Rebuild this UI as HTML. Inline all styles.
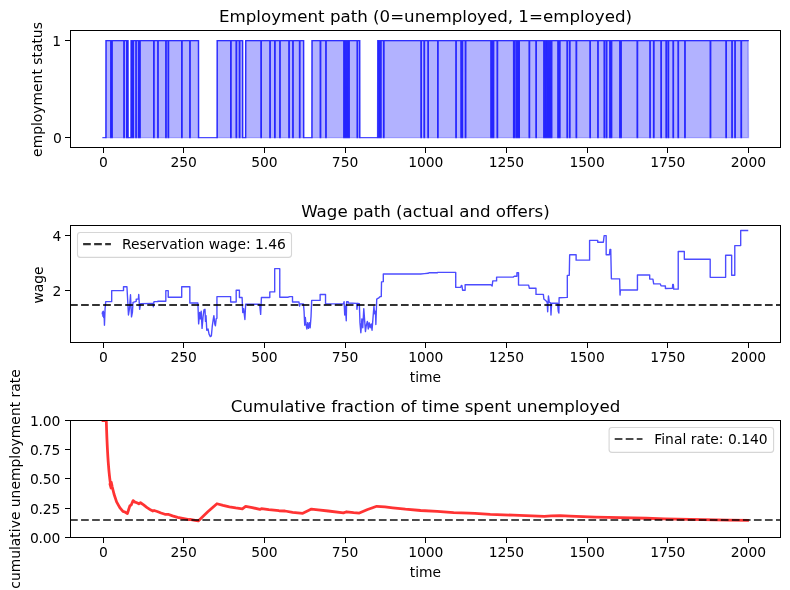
<!DOCTYPE html>
<html lang="en"><head><meta charset="utf-8"><title>McCall model simulation</title>
<style>html,body{margin:0;padding:0;background:#fff}svg{display:block}text{font-family:'DejaVu Sans','Liberation Sans',sans-serif;fill:#000}.t{font-size:16.67px;text-anchor:middle}.l{font-size:13.89px;text-anchor:middle}.x{font-size:13.89px;text-anchor:middle}.y{font-size:13.89px;text-anchor:end;letter-spacing:-0.12px}.lg{font-size:13.89px;text-anchor:start}.sp{fill:none;stroke:#000;stroke-width:1.11;shape-rendering:crispEdges}.tk{stroke:#000;stroke-width:1.11;shape-rendering:crispEdges}</style></head><body>
<svg width="790" height="590" viewBox="0 0 790 590">
<rect width="790" height="590" fill="#fff"/>
<defs>
<clipPath id="c1"><rect x="70.5" y="30.5" width="710.0" height="117.0"/></clipPath>
<clipPath id="c2"><rect x="70.5" y="225.5" width="710.0" height="117.0"/></clipPath>
<clipPath id="c3"><rect x="70.5" y="420.5" width="710.0" height="117.0"/></clipPath>
</defs>
<g clip-path="url(#c1)">
<path d="M105.68,137.6L106.00,40.6H110.75L111.07,137.6ZM110.76,137.6L111.08,40.6H111.85L112.17,137.6ZM111.86,137.6L112.18,40.6H123.90L124.22,137.6ZM123.91,137.6L124.23,40.6H126.70L127.02,137.6ZM126.71,137.6L127.03,40.6H128.00L128.32,137.6ZM130.78,137.6L131.10,40.6H132.10L132.42,137.6ZM132.11,137.6L132.43,40.6H133.10L133.42,137.6ZM133.11,137.6L133.43,40.6H135.90L136.22,137.6ZM135.91,137.6L136.23,40.6H138.50L138.82,137.6ZM138.51,137.6L138.83,40.6H139.80L140.12,137.6ZM139.81,137.6L140.13,40.6H153.70L154.02,137.6ZM153.71,137.6L154.03,40.6H157.80L158.12,137.6ZM157.81,137.6L158.13,40.6H165.80L166.12,137.6ZM165.81,137.6L166.13,40.6H168.20L168.52,137.6ZM168.21,137.6L168.53,40.6H181.70L182.02,137.6ZM181.71,137.6L182.03,40.6H189.80L190.12,137.6ZM189.81,137.6L190.13,40.6H198.50L198.82,137.6ZM216.88,137.6L217.20,40.6H230.70L231.02,137.6ZM230.71,137.6L231.03,40.6H236.20L236.52,137.6ZM236.21,137.6L236.53,40.6H239.40L239.72,137.6ZM239.41,137.6L239.73,40.6H242.60L242.92,137.6ZM245.38,137.6L245.70,40.6H261.00L261.32,137.6ZM261.01,137.6L261.33,40.6H269.90L270.22,137.6ZM269.91,137.6L270.23,40.6H274.70L275.02,137.6ZM274.71,137.6L275.03,40.6H279.80L280.12,137.6ZM279.81,137.6L280.13,40.6H288.90L289.22,137.6ZM288.91,137.6L289.23,40.6H292.80L293.12,137.6ZM292.81,137.6L293.13,40.6H299.55L299.87,137.6ZM299.56,137.6L299.88,40.6H303.60L303.92,137.6ZM311.68,137.6L312.00,40.6H320.30L320.62,137.6ZM320.31,137.6L320.63,40.6H325.80L326.12,137.6ZM325.81,137.6L326.13,40.6H343.80L344.12,137.6ZM343.81,137.6L344.13,40.6H345.00L345.32,137.6ZM345.01,137.6L345.33,40.6H346.20L346.52,137.6ZM346.21,137.6L346.53,40.6H347.30L347.62,137.6ZM347.31,137.6L347.63,40.6H348.90L349.22,137.6ZM348.91,137.6L349.23,40.6H357.20L357.52,137.6ZM357.21,137.6L357.53,40.6H359.70L360.02,137.6ZM377.48,137.6L377.80,40.6H379.20L379.52,137.6ZM379.21,137.6L379.53,40.6H380.70L381.02,137.6ZM380.71,137.6L381.03,40.6H383.60L383.92,137.6ZM383.61,137.6L383.93,40.6H421.00L421.32,137.6ZM421.01,137.6L421.33,40.6H424.10L424.42,137.6ZM424.11,137.6L424.43,40.6H428.00L428.32,137.6ZM428.01,137.6L428.33,40.6H437.70L438.02,137.6ZM437.71,137.6L438.03,40.6H455.90L456.22,137.6ZM455.91,137.6L456.23,40.6H461.00L461.32,137.6ZM461.01,137.6L461.33,40.6H462.20L462.52,137.6ZM462.21,137.6L462.53,40.6H465.40L465.72,137.6ZM465.41,137.6L465.73,40.6H490.90L491.22,137.6ZM490.91,137.6L491.23,40.6H492.10L492.42,137.6ZM492.11,137.6L492.43,40.6H493.30L493.62,137.6ZM493.31,137.6L493.63,40.6H497.20L497.52,137.6ZM497.21,137.6L497.53,40.6H513.60L513.92,137.6ZM513.61,137.6L513.93,40.6H514.60L514.92,137.6ZM514.61,137.6L514.93,40.6H516.60L516.92,137.6ZM516.61,137.6L516.93,40.6H517.80L518.12,137.6ZM517.81,137.6L518.13,40.6H519.00L519.32,137.6ZM519.01,137.6L519.33,40.6H529.20L529.52,137.6ZM529.21,137.6L529.53,40.6H536.00L536.32,137.6ZM536.01,137.6L536.33,40.6H543.80L544.12,137.6ZM543.81,137.6L544.13,40.6H545.50L545.82,137.6ZM545.51,137.6L545.83,40.6H547.20L547.52,137.6ZM547.21,137.6L547.53,40.6H548.30L548.62,137.6ZM548.31,137.6L548.63,40.6H549.40L549.72,137.6ZM549.41,137.6L549.73,40.6H550.40L550.72,137.6ZM550.41,137.6L550.73,40.6H551.40L551.72,137.6ZM551.41,137.6L551.73,40.6H557.90L558.22,137.6ZM557.91,137.6L558.23,40.6H559.60L559.92,137.6ZM559.61,137.6L559.93,40.6H567.10L567.42,137.6ZM567.11,137.6L567.43,40.6H569.60L569.92,137.6ZM569.61,137.6L569.93,40.6H576.20L576.52,137.6ZM576.21,137.6L576.53,40.6H590.00L590.32,137.6ZM590.01,137.6L590.33,40.6H597.80L598.12,137.6ZM597.81,137.6L598.13,40.6H604.20L604.52,137.6ZM604.21,137.6L604.53,40.6H606.40L606.72,137.6ZM606.41,137.6L606.73,40.6H609.80L610.12,137.6ZM609.81,137.6L610.13,40.6H611.30L611.62,137.6ZM611.31,137.6L611.63,40.6H619.80L620.12,137.6ZM619.81,137.6L620.13,40.6H620.90L621.22,137.6ZM620.91,137.6L621.23,40.6H637.20L637.52,137.6ZM637.21,137.6L637.53,40.6H649.90L650.22,137.6ZM649.91,137.6L650.23,40.6H653.60L653.92,137.6ZM653.61,137.6L653.93,40.6H661.00L661.32,137.6ZM661.01,137.6L661.33,40.6H666.10L666.42,137.6ZM666.11,137.6L666.43,40.6H668.20L668.52,137.6ZM668.21,137.6L668.53,40.6H673.10L673.42,137.6ZM673.11,137.6L673.43,40.6H678.10L678.42,137.6ZM678.11,137.6L678.43,40.6H684.80L685.12,137.6ZM684.81,137.6L685.13,40.6H710.30L710.62,137.6ZM710.31,137.6L710.63,40.6H726.00L726.32,137.6ZM726.01,137.6L726.33,40.6H731.90L732.22,137.6ZM731.91,137.6L732.23,40.6H734.90L735.22,137.6ZM734.91,137.6L735.23,40.6H741.10L741.42,137.6ZM741.11,137.6L741.43,40.6H748.13L748.45,137.6Z" fill="#0000ff" fill-opacity="0.3" stroke="#0000ff" stroke-opacity="0.3" stroke-width="1.39" stroke-linejoin="miter"/>
<path d="M103.05,137.6H106.00V40.6H110.75V137.6H111.08V40.6H111.85V137.6H112.18V40.6H123.90V137.6H124.23V40.6H126.70V137.6H127.03V40.6H128.00V137.6H131.10V40.6H132.10V137.6H132.43V40.6H133.10V137.6H133.43V40.6H135.90V137.6H136.23V40.6H138.50V137.6H138.83V40.6H139.80V137.6H140.13V40.6H153.70V137.6H154.03V40.6H157.80V137.6H158.13V40.6H165.80V137.6H166.13V40.6H168.20V137.6H168.53V40.6H181.70V137.6H182.03V40.6H189.80V137.6H190.13V40.6H198.50V137.6H217.20V40.6H230.70V137.6H231.03V40.6H236.20V137.6H236.53V40.6H239.40V137.6H239.73V40.6H242.60V137.6H245.70V40.6H261.00V137.6H261.33V40.6H269.90V137.6H270.23V40.6H274.70V137.6H275.03V40.6H279.80V137.6H280.13V40.6H288.90V137.6H289.23V40.6H292.80V137.6H293.13V40.6H299.55V137.6H299.88V40.6H303.60V137.6H312.00V40.6H320.30V137.6H320.63V40.6H325.80V137.6H326.13V40.6H343.80V137.6H344.13V40.6H345.00V137.6H345.33V40.6H346.20V137.6H346.53V40.6H347.30V137.6H347.63V40.6H348.90V137.6H349.23V40.6H357.20V137.6H357.53V40.6H359.70V137.6H377.80V40.6H379.20V137.6H379.53V40.6H380.70V137.6H381.03V40.6H383.60V137.6H383.93V40.6H421.00V137.6H421.33V40.6H424.10V137.6H424.43V40.6H428.00V137.6H428.33V40.6H437.70V137.6H438.03V40.6H455.90V137.6H456.23V40.6H461.00V137.6H461.33V40.6H462.20V137.6H462.53V40.6H465.40V137.6H465.73V40.6H490.90V137.6H491.23V40.6H492.10V137.6H492.43V40.6H493.30V137.6H493.63V40.6H497.20V137.6H497.53V40.6H513.60V137.6H513.93V40.6H514.60V137.6H514.93V40.6H516.60V137.6H516.93V40.6H517.80V137.6H518.13V40.6H519.00V137.6H519.33V40.6H529.20V137.6H529.53V40.6H536.00V137.6H536.33V40.6H543.80V137.6H544.13V40.6H545.50V137.6H545.83V40.6H547.20V137.6H547.53V40.6H548.30V137.6H548.63V40.6H549.40V137.6H549.73V40.6H550.40V137.6H550.73V40.6H551.40V137.6H551.73V40.6H557.90V137.6H558.23V40.6H559.60V137.6H559.93V40.6H567.10V137.6H567.43V40.6H569.60V137.6H569.93V40.6H576.20V137.6H576.53V40.6H590.00V137.6H590.33V40.6H597.80V137.6H598.13V40.6H604.20V137.6H604.53V40.6H606.40V137.6H606.73V40.6H609.80V137.6H610.13V40.6H611.30V137.6H611.63V40.6H619.80V137.6H620.13V40.6H620.90V137.6H621.23V40.6H637.20V137.6H637.53V40.6H649.90V137.6H650.23V40.6H653.60V137.6H653.93V40.6H661.00V137.6H661.33V40.6H666.10V137.6H666.43V40.6H668.20V137.6H668.53V40.6H673.10V137.6H673.43V40.6H678.10V137.6H678.43V40.6H684.80V137.6H685.13V40.6H710.30V137.6H710.63V40.6H726.00V137.6H726.33V40.6H731.90V137.6H732.23V40.6H734.90V137.6H735.23V40.6H741.10V137.6H741.43V40.6H748.13" fill="none" stroke="#0000ff" stroke-opacity="0.7" stroke-width="1.39" stroke-linejoin="miter" stroke-linecap="square"/>
</g>
<rect class="sp" x="70.5" y="30.5" width="710.0" height="117.0"/>
<line class="tk" x1="103.5" y1="147.5" x2="103.5" y2="153.0"/>
<text class="x" x="103.5" y="167.4">0</text>
<line class="tk" x1="183.5" y1="147.5" x2="183.5" y2="153.0"/>
<text class="x" x="183.7" y="167.4">250</text>
<line class="tk" x1="264.5" y1="147.5" x2="264.5" y2="153.0"/>
<text class="x" x="264.4" y="167.4">500</text>
<line class="tk" x1="345.5" y1="147.5" x2="345.5" y2="153.0"/>
<text class="x" x="345.1" y="167.4">750</text>
<line class="tk" x1="425.5" y1="147.5" x2="425.5" y2="153.0"/>
<text class="x" x="425.8" y="167.4">1000</text>
<line class="tk" x1="506.5" y1="147.5" x2="506.5" y2="153.0"/>
<text class="x" x="506.4" y="167.4">1250</text>
<line class="tk" x1="587.5" y1="147.5" x2="587.5" y2="153.0"/>
<text class="x" x="587.1" y="167.4">1500</text>
<line class="tk" x1="667.5" y1="147.5" x2="667.5" y2="153.0"/>
<text class="x" x="667.8" y="167.4">1750</text>
<line class="tk" x1="748.5" y1="147.5" x2="748.5" y2="153.0"/>
<text class="x" x="748.4" y="167.4">2000</text>
<line class="tk" x1="65.0" y1="40.5" x2="70.5" y2="40.5"/>
<text class="y" x="61.0" y="45.9">1</text>
<line class="tk" x1="65.0" y1="137.5" x2="70.5" y2="137.5"/>
<text class="y" x="61.7" y="142.9">0</text>
<text class="t" x="425.5" y="22.3">Employment path (0=unemployed, 1=employed)</text>
<text class="l" transform="translate(42.3,89.5) rotate(-90)">employment status</text>
<g clip-path="url(#c2)">
<polyline points="102.29,313.74 102.54,311.84 102.92,316.28 103.30,311.20 103.68,317.56 104.07,312.47 104.45,325.18 105.08,308.66 105.72,301.67 111.69,301.67 111.69,290.62 123.51,290.62 123.51,286.81 126.94,286.81 127.45,295.95 128.46,315.01 129.48,308.66 130.50,294.68 131.51,316.92 132.40,312.47 133.04,302.31 136.21,301.29 136.21,299.13 138.37,299.13 138.75,294.43 139.64,309.30 140.66,303.58 153.11,303.32 153.37,306.75 154.00,301.67 157.81,301.67 157.81,301.29 165.82,301.29 165.82,290.62 168.23,290.62 168.23,297.22 181.70,297.22 181.70,286.81 189.83,286.81 189.83,302.94 197.88,302.94 198.64,323.91 199.66,312.47 200.42,318.83 201.18,311.20 202.07,328.36 203.09,316.28 203.98,309.93 204.99,309.30 205.50,321.37 206.01,315.65 206.77,330.26 208.04,328.99 209.06,334.07 210.33,336.61 211.35,335.98 212.24,326.45 213.13,320.10 213.89,315.65 214.78,323.91 215.41,325.81 216.18,318.83 216.94,318.19 216.94,296.59 230.66,296.59 230.66,302.05 236.19,302.05 236.19,290.24 239.43,290.24 239.43,297.48 242.10,297.48 242.73,312.47 243.62,308.66 244.89,319.46 245.65,304.21 259.63,304.21 260.65,314.38 261.41,297.48 269.80,297.48 269.80,291.89 274.69,291.89 274.69,268.64 279.77,268.64 279.77,297.22 287.84,297.22 289.83,296.59 292.50,296.59 292.50,302.05 298.98,302.05 299.61,306.12 300.25,303.83 303.42,303.83 304.06,311.20 304.70,325.18 305.33,317.56 305.97,323.91 306.86,328.99 307.62,322.64 308.51,328.36 309.40,322.64 310.16,327.72 311.05,316.28 311.68,300.40 320.13,300.40 320.13,294.43 325.53,294.43 325.53,303.83 343.45,303.83 344.09,301.67 344.72,315.01 345.36,306.12 346.25,320.73 346.63,301.67 348.21,301.67 348.21,302.94 356.79,303.32 356.92,309.30 357.68,303.32 359.33,303.58 359.97,322.64 360.86,332.80 361.87,318.83 362.76,327.72 363.78,308.66 364.80,322.64 365.43,331.53 366.32,325.18 367.34,321.37 368.23,328.99 369.12,322.64 370.13,327.72 371.15,323.91 372.04,330.26 372.93,318.83 373.95,306.12 374.58,313.74 375.47,311.20 375.85,324.54 376.74,299.13 378.77,297.86 380.30,296.59 381.27,296.54 381.52,281.93 383.30,281.68 383.30,274.05 420.66,274.05 424.47,273.67 428.03,273.29 428.92,272.78 437.18,272.78 437.81,272.40 455.73,272.40 455.73,287.40 460.69,287.40 461.32,285.49 461.96,285.74 462.59,290.19 465.13,290.19 465.13,284.73 480.00,284.73 490.88,284.73 492.15,286.00 492.79,280.91 496.60,280.91 496.60,277.10 513.12,277.10 514.39,276.21 516.93,276.21 516.93,272.78 518.52,272.78 518.52,285.11 528.62,285.11 529.38,288.28 535.99,288.28 535.99,294.38 543.36,294.38 543.87,299.09 546.16,300.99 547.17,302.26 547.68,311.79 548.44,295.91 549.33,302.26 550.60,302.90 550.98,314.97 551.62,303.28 557.59,303.28 558.23,311.16 558.86,313.06 559.12,297.81 567.31,297.43 567.31,275.32 569.28,275.32 569.66,254.99 569.83,254.68 576.12,254.68 576.12,260.15 589.59,260.15 589.59,240.33 597.72,240.33 597.72,242.23 603.37,242.23 604.14,235.62 606.17,235.62 606.17,254.68 609.47,254.68 609.98,249.35 610.74,249.35 611.38,278.83 619.64,278.83 620.02,295.09 620.40,290.01 637.43,290.01 637.43,275.01 649.69,275.01 649.69,279.08 652.93,279.08 653.69,283.91 660.30,283.91 661.02,285.74 665.40,285.99 665.40,288.53 672.45,288.28 672.71,284.47 673.34,284.47 673.72,289.17 678.23,289.17 678.23,251.43 684.33,251.43 684.33,259.31 710.19,259.31 710.19,277.35 725.63,277.35 725.63,255.24 731.66,255.24 731.66,275.19 734.78,275.19 734.78,245.58 740.69,245.58 740.69,230.46 747.56,230.46" fill="none" stroke="#0000ff" stroke-opacity="0.7" stroke-width="1.39" stroke-linejoin="round" stroke-linecap="square"/>
<line x1="70.05" y1="305.0" x2="780.5" y2="305.0" stroke="#000" stroke-opacity="0.8" stroke-width="2.08" stroke-dasharray="7.7 3.33"/>
</g>
<rect class="sp" x="70.5" y="225.5" width="710.0" height="117.0"/>
<line class="tk" x1="103.5" y1="342.5" x2="103.5" y2="348.0"/>
<text class="x" x="103.5" y="362.4">0</text>
<line class="tk" x1="183.5" y1="342.5" x2="183.5" y2="348.0"/>
<text class="x" x="183.7" y="362.4">250</text>
<line class="tk" x1="264.5" y1="342.5" x2="264.5" y2="348.0"/>
<text class="x" x="264.4" y="362.4">500</text>
<line class="tk" x1="345.5" y1="342.5" x2="345.5" y2="348.0"/>
<text class="x" x="345.1" y="362.4">750</text>
<line class="tk" x1="425.5" y1="342.5" x2="425.5" y2="348.0"/>
<text class="x" x="425.8" y="362.4">1000</text>
<line class="tk" x1="506.5" y1="342.5" x2="506.5" y2="348.0"/>
<text class="x" x="506.4" y="362.4">1250</text>
<line class="tk" x1="587.5" y1="342.5" x2="587.5" y2="348.0"/>
<text class="x" x="587.1" y="362.4">1500</text>
<line class="tk" x1="667.5" y1="342.5" x2="667.5" y2="348.0"/>
<text class="x" x="667.8" y="362.4">1750</text>
<line class="tk" x1="748.5" y1="342.5" x2="748.5" y2="348.0"/>
<text class="x" x="748.4" y="362.4">2000</text>
<line class="tk" x1="65.0" y1="235.5" x2="70.5" y2="235.5"/>
<text class="y" x="61.2" y="240.8">4</text>
<line class="tk" x1="65.0" y1="290.5" x2="70.5" y2="290.5"/>
<text class="y" x="61.2" y="295.8">2</text>
<text class="t" x="425.5" y="217.3">Wage path (actual and offers)</text>
<text class="l" transform="translate(43.3,285.0) rotate(-90)">wage</text>
<text class="l" x="425.5" y="381.5">time</text>
<rect x="77.5" y="232.5" width="214" height="24.9" rx="2.8" fill="#fff" fill-opacity="0.8" stroke="#ccc" stroke-opacity="0.8" stroke-width="1.11"/>
<line x1="83.1" y1="244.1" x2="110.9" y2="244.1" stroke="#000" stroke-opacity="0.8" stroke-width="2.08" stroke-dasharray="7.7 3.33"/>
<text class="lg" x="122" y="249">Reservation wage: 1.46</text>
<g clip-path="url(#c3)">
<polyline points="103.05,420.50 106.28,420.50 106.28,420.50 106.60,430.25 106.92,438.50 107.25,445.57 107.57,451.70 107.89,457.06 108.21,461.79 108.54,466.00 108.86,469.76 109.18,473.15 109.50,476.21 109.83,479.00 110.15,481.54 110.47,483.88 110.79,486.02 111.12,488.00 109.99,484.06 111.26,482.15 112.15,486.60 114.06,494.22 116.60,501.85 119.78,507.57 122.95,511.38 124.86,512.01 127.40,513.54 128.67,509.47 129.94,505.66 131.21,505.03 133.12,500.58 135.03,502.10 136.93,502.74 138.84,503.75 140.49,502.74 143.28,504.64 147.10,507.57 150.91,510.11 152.81,511.00 154.09,510.49 157.26,511.51 161.07,513.03 164.89,514.30 168.06,514.30 172.51,515.83 177.59,517.35 183.95,518.62 189.03,519.64 190.00,519.38 195.08,520.40 198.26,520.91 207.79,511.76 216.94,503.75 223.04,505.41 229.39,506.93 235.74,507.95 242.35,508.84 245.65,506.30 252.26,507.57 259.89,509.47 261.41,508.58 268.78,509.73 278.95,510.74 285.00,511.00 292.62,512.27 302.79,513.28 311.43,509.09 318.04,509.85 328.20,511.00 343.45,512.90 346.63,511.76 353.61,512.65 359.33,513.03 367.59,509.47 376.74,506.30 384.96,506.93 392.71,507.82 405.41,509.22 420.66,510.49 437.18,511.38 453.70,512.65 468.95,513.03 475.00,513.28 490.25,514.30 513.12,515.19 532.18,515.83 544.25,516.33 551.24,515.83 560.13,515.70 570.00,516.21 595.41,517.10 620.83,517.60 646.24,518.24 665.00,518.79 677.71,519.05 703.12,519.68 728.53,520.19 747.56,520.45" fill="none" stroke="#ff0000" stroke-opacity="0.8" stroke-width="2.78" stroke-linejoin="round" stroke-linecap="square"/>
<line x1="70.05" y1="520.0" x2="780.5" y2="520.0" stroke="#000" stroke-opacity="0.7" stroke-width="2.08" stroke-dasharray="7.7 3.33"/>
</g>
<rect class="sp" x="70.5" y="420.5" width="710.0" height="117.0"/>
<line class="tk" x1="103.5" y1="537.5" x2="103.5" y2="543.0"/>
<text class="x" x="103.5" y="557.4">0</text>
<line class="tk" x1="183.5" y1="537.5" x2="183.5" y2="543.0"/>
<text class="x" x="183.7" y="557.4">250</text>
<line class="tk" x1="264.5" y1="537.5" x2="264.5" y2="543.0"/>
<text class="x" x="264.4" y="557.4">500</text>
<line class="tk" x1="345.5" y1="537.5" x2="345.5" y2="543.0"/>
<text class="x" x="345.1" y="557.4">750</text>
<line class="tk" x1="425.5" y1="537.5" x2="425.5" y2="543.0"/>
<text class="x" x="425.8" y="557.4">1000</text>
<line class="tk" x1="506.5" y1="537.5" x2="506.5" y2="543.0"/>
<text class="x" x="506.4" y="557.4">1250</text>
<line class="tk" x1="587.5" y1="537.5" x2="587.5" y2="543.0"/>
<text class="x" x="587.1" y="557.4">1500</text>
<line class="tk" x1="667.5" y1="537.5" x2="667.5" y2="543.0"/>
<text class="x" x="667.8" y="557.4">1750</text>
<line class="tk" x1="748.5" y1="537.5" x2="748.5" y2="543.0"/>
<text class="x" x="748.4" y="557.4">2000</text>
<line class="tk" x1="65.0" y1="537.5" x2="70.5" y2="537.5"/>
<text class="y" x="60.3" y="542.8">0.00</text>
<line class="tk" x1="65.0" y1="508.5" x2="70.5" y2="508.5"/>
<text class="y" x="60.3" y="513.5">0.25</text>
<line class="tk" x1="65.0" y1="478.5" x2="70.5" y2="478.5"/>
<text class="y" x="60.3" y="484.3">0.50</text>
<line class="tk" x1="65.0" y1="449.5" x2="70.5" y2="449.5"/>
<text class="y" x="60.3" y="455.1">0.75</text>
<line class="tk" x1="65.0" y1="420.5" x2="70.5" y2="420.5"/>
<text class="y" x="60.3" y="425.8">1.00</text>
<text class="t" x="425.5" y="412.3">Cumulative fraction of time spent unemployed</text>
<text class="l" transform="translate(19.5,479.0) rotate(-90)">cumulative unemployment rate</text>
<text class="l" x="425.5" y="576.5">time</text>
<rect x="609.1" y="427.5" width="164.5" height="24.9" rx="2.8" fill="#fff" fill-opacity="0.8" stroke="#ccc" stroke-opacity="0.8" stroke-width="1.11"/>
<line x1="614.7" y1="439.0" x2="642.5" y2="439.0" stroke="#000" stroke-opacity="0.7" stroke-width="2.08" stroke-dasharray="7.7 3.33"/>
<text class="lg" x="654.3" y="444">Final rate: 0.140</text>
</svg></body></html>
